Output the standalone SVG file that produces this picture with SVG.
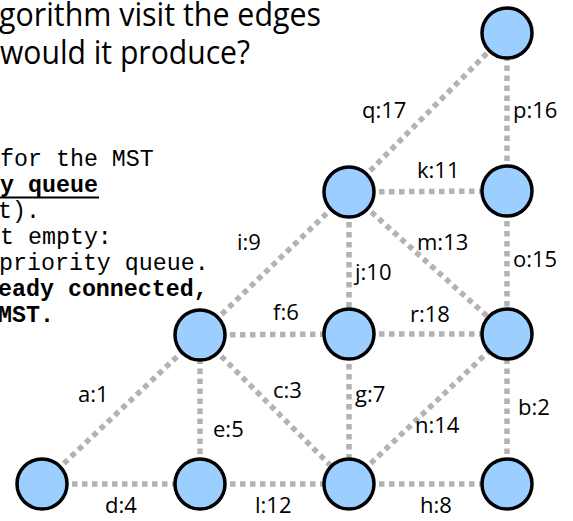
<svg xmlns="http://www.w3.org/2000/svg" width="573" height="521" viewBox="0 0 573 521">
<style>
.e{stroke:#b3b3b3;stroke-width:5.5;stroke-dasharray:5.5 4.5;fill:none}
.n{fill:#9ccfff;stroke:#000;stroke-width:3.5}
.l{font-family:"Open Sans",sans-serif;font-size:22px;fill:#000}
.t{font-family:"Open Sans",sans-serif;font-size:32px;fill:#000}
.m{font-family:"Liberation Mono",monospace;font-size:23.3px;fill:#000}
.b{font-weight:bold}
</style>
<rect width="573" height="521" fill="#fff"/>
<g id="title">
<text class="t" x="-1" y="26" textLength="322" lengthAdjust="spacingAndGlyphs">gorithm visit the edges</text>
<text class="t" x="0" y="64" textLength="250" lengthAdjust="spacingAndGlyphs">would it produce?</text>
</g>
<g id="code">
<text class="m" x="0" y="166">for the MST</text>
<text class="m b" x="0" y="192">y queue</text>
<line x1="0" y1="197.5" x2="99" y2="197.5" stroke="#000" stroke-width="2"/>
<text class="m" x="-2" y="218">t).</text>
<text class="m" x="0" y="244">t empty:</text>
<text class="m" x="-1" y="270">priority queue.</text>
<text class="m b" x="-2" y="296">eady connected,</text>
<text class="m b" x="-2" y="322">MST.</text>
</g>
<g id="connectors">
<line class="e" x1="42" y1="484" x2="200" y2="335"/>
<line class="e" x1="42" y1="484" x2="200" y2="484"/>
<line class="e" x1="200" y1="484" x2="200" y2="335"/>
<line class="e" x1="200" y1="484" x2="349" y2="484"/>
<line class="e" x1="200" y1="335" x2="349" y2="484"/>
<line class="e" x1="200" y1="335" x2="349" y2="334"/>
<line class="e" x1="349" y1="334" x2="349" y2="484"/>
<line class="e" x1="349" y1="484" x2="507" y2="484"/>
<line class="e" x1="349" y1="484" x2="507" y2="334"/>
<line class="e" x1="507" y1="484" x2="507" y2="334"/>
<line class="e" x1="349" y1="334" x2="507" y2="334"/>
<line class="e" x1="349" y1="192" x2="349" y2="334"/>
<line class="e" x1="349" y1="192" x2="507" y2="334"/>
<line class="e" x1="507" y1="191" x2="507" y2="334"/>
<line class="e" x1="200" y1="335" x2="349" y2="192"/>
<line class="e" x1="349" y1="192" x2="507" y2="191"/>
<line class="e" x1="349" y1="192" x2="507" y2="33"/>
<line class="e" x1="507" y1="191" x2="507" y2="33"/>
</g>
<g id="labels">
<text class="l" x="362" y="118">q:17</text>
<text class="l" x="513" y="118">p:16</text>
<text class="l" x="417" y="178">k:11</text>
<text class="l" x="417" y="250">m:13</text>
<text class="l" x="513" y="267">o:15</text>
<text class="l" x="355" y="280">j:10</text>
<text class="l" x="410" y="322">r:18</text>
<text class="l" x="237" y="250">i:9</text>
<text class="l" x="273" y="320">f:6</text>
<text class="l" x="78" y="402">a:1</text>
<text class="l" x="273" y="398">c:3</text>
<text class="l" x="213" y="437">e:5</text>
<text class="l" x="105" y="513">d:4</text>
<text class="l" x="255" y="513">l:12</text>
<text class="l" x="355" y="402">g:7</text>
<text class="l" x="518" y="415">b:2</text>
<text class="l" x="415" y="433">n:14</text>
<text class="l" x="420" y="513">h:8</text>
</g>
<g id="nA"><circle class="n" cx="42" cy="484" r="25"/></g>
<g id="nB"><circle class="n" cx="200" cy="484" r="25"/></g>
<g id="nC"><circle class="n" cx="349" cy="484" r="25"/></g>
<g id="nD"><circle class="n" cx="507" cy="484" r="25"/></g>
<g id="nE"><circle class="n" cx="200" cy="335" r="25"/></g>
<g id="nF"><circle class="n" cx="349" cy="334" r="25"/></g>
<g id="nG"><circle class="n" cx="507" cy="334" r="25"/></g>
<g id="nH"><circle class="n" cx="349" cy="192" r="25"/></g>
<g id="nI"><circle class="n" cx="507" cy="191" r="25"/></g>
<g id="nJ"><circle class="n" cx="507" cy="33" r="25"/></g>
</svg>
